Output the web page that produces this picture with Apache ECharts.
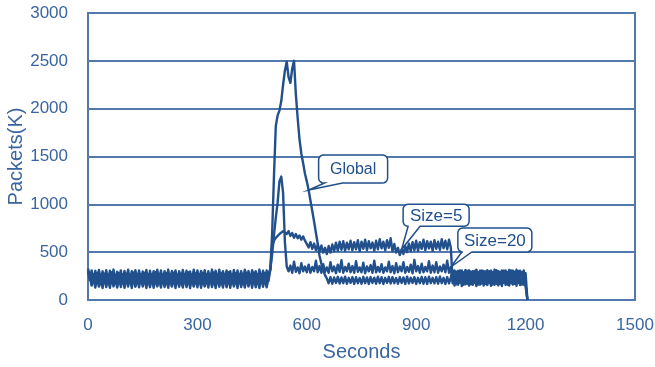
<!DOCTYPE html>
<html>
<head>
<meta charset="utf-8">
<script src="https://cdn.jsdelivr.net/npm/echarts@6/dist/echarts.min.js"></script>
<style>
  html, body { margin: 0; padding: 0; background: #ffffff; }
  #chart { width: 655px; height: 367px; }
</style>
</head>
<body>
<div id="chart"></div>
<script>
// Packet counts (thousands) sampled every STEP seconds, starting at t = 0.
const STEP = 5;

const globalPkts = [
  330,255,150,235,130,245,140,220,125,250,
  135,238,128,246,142,226,130,252,136,240,
  128,232,140,248,126,236,138,224,132,250,
  140,230,126,244,134,254,128,228,142,238,
  130,246,136,222,128,250,140,234,126,242,
  138,228,130,252,134,236,126,246,140,226,
  132,248,128,238,142,230,130,254,136,232,
  126,244,138,226,130,250,134,240,128,236,
  140,230,126,248,136,222,130,246,142,238,
  128,250,134,232,126,244,138,228,132,240,
  320,700,1300,1820,1930,1980,2080,2250,2400,2490,
  2330,2270,2420,2500,2150,1900,1680,1530,1430,1320,
  1240,1150,1040,930,820,700,590,460,380,310,
  260,225,175,240,170,235,178,242,172,236,
  176,244,170,232,178,240,168,238,176,230,
  170,242,176,236,168,240,178,234,170,244,
  176,238,168,232,180,242,172,240,176,230,
  170,240,178,236,168,244,174,234,178,240,
  168,232,176,242,170,238,168,244,176,232,
  174,240,170,246,176,232,168,240,174,236,
  300,150,295,160,310,145,290,165,305,150,
  296,158,304,146,292,162,308,150,298,156,
  302,148,290,160,312,152,294,146,306,158,
  292,150,308,162,296,148,304,156,290,160,
  280,0
];

const size5Pkts = [
  300,210,310,200,305,195,315,215,300,205,
  312,198,306,210,318,200,296,208,310,196,
  304,212,316,202,300,206,312,198,308,210,
  298,200,314,196,306,214,302,204,316,198,
  308,208,300,202,318,196,304,212,310,204,
  302,198,314,210,306,200,298,206,316,196,
  310,212,304,200,312,208,300,198,318,210,
  306,202,316,196,302,214,310,204,300,200,
  314,196,308,212,302,206,316,198,304,208,
  312,202,300,196,318,210,306,200,310,198,
  320,560,620,650,660,690,700,720,700,690,
  720,670,700,650,690,645,675,630,665,620,
  615,550,605,535,590,520,580,505,570,495,
  545,480,565,495,580,510,600,515,610,525,
  615,515,600,530,620,520,605,530,625,510,
  610,535,630,520,615,540,600,515,620,530,
  635,540,610,520,625,545,645,510,585,495,
  545,470,530,480,565,500,590,510,605,520,
  620,515,605,535,630,520,615,540,610,515,
  625,535,610,525,635,540,620,530,630,545,
  200,310,195,305,210,300,198,315,205,308,
  200,302,212,316,196,306,204,300,210,312,
  198,304,208,318,202,300,196,310,206,302,
  212,314,200,306,198,316,204,300,208,310,
  310,0
];

const size20Pkts = [
  280,250,160,270,150,285,145,260,165,275,
  155,268,148,290,158,262,150,282,162,270,
  146,276,160,264,152,288,148,272,156,266,
  162,284,150,270,146,262,158,290,152,274,
  148,266,160,280,154,272,146,286,158,264,
  156,278,148,268,162,290,150,262,146,280,
  160,270,154,284,148,266,158,276,150,288,
  146,262,162,282,152,270,148,290,156,268,
  158,280,146,266,160,274,150,286,154,262,
  150,288,156,270,148,264,162,282,146,276,
  320,480,680,860,1020,1240,1290,1120,600,350,
  300,360,285,400,295,340,280,385,300,350,
  290,370,285,345,300,410,290,355,285,375,
  295,340,285,395,300,350,280,370,295,415,
  285,345,300,380,290,355,285,405,295,340,
  290,390,280,350,300,365,285,410,290,345,
  295,375,285,340,300,400,290,355,280,385,
  290,350,300,395,285,345,295,370,280,420,
  300,355,285,380,290,345,300,405,285,360,
  290,395,285,350,300,370,290,410,285,345,
  175,300,165,290,180,310,160,295,170,305,
  165,292,178,308,160,296,172,300,168,288,
  176,306,162,294,170,302,166,290,180,310,
  160,298,174,304,168,292,178,306,162,296,
  290,0
];

const seriesNames = ['Global', 'Size=5', 'Size=20'];
const seriesValues = [globalPkts, size5Pkts, size20Pkts];

// Callouts: which series/time the pointer touches, and where the box sits relative to it.
const callouts = [
  { series: 0, t: 605, dx: 10, dy: -35, w: 69, h: 28, b1: 6, b2: 24, fontSize: 16 },
  { series: 1, t: 860, dx: 1.5, dy: -45, w: 66, h: 22, b1: 5, b2: 17, fontSize: 17 },
  { series: 2, t: 995, dx: 7, dy: -39, w: 74, h: 24, b1: 4, b2: 14, fontSize: 17 }
];

const INK = '#21508c';
const LABEL = '#3a65a0';
const GRID = '#5279ae';
const FONT = '"Liberation Sans", Arial, Helvetica, sans-serif';

const chart = echarts.init(document.getElementById('chart'), null, { renderer: 'canvas' });

const series = seriesValues.map((vals, k) => ({
  name: seriesNames[k],
  type: 'line',
  data: vals.map((v, i) => [i * STEP, v]),
  showSymbol: false,
  symbol: 'none',
  sampling: null,
  lineStyle: { color: INK, width: 2.4, join: 'round' },
  itemStyle: { color: INK },
  z: 3
}));

chart.setOption({
  animation: false,
  backgroundColor: '#ffffff',
  grid: {
    left: 88, right: 20, top: 13, bottom: 67,
    containLabel: false, outerBoundsMode: 'none',
    show: true, borderColor: GRID, borderWidth: 2, backgroundColor: '#ffffff'
  },
  xAxis: {
    type: 'value', min: 0, max: 1500, interval: 300,
    name: 'Seconds', nameLocation: 'middle', nameGap: 42, nameMoveOverlap: false,
    nameTextStyle: { color: LABEL, fontSize: 20, fontFamily: FONT },
    axisLine: { show: true, lineStyle: { color: GRID, width: 2 } },
    axisTick: { show: false },
    splitLine: { show: false },
    axisLabel: { color: LABEL, fontSize: 17, fontFamily: FONT, margin: 17,
                 formatter: (v) => String(v) }
  },
  yAxis: {
    type: 'value', min: 0, max: 3000, interval: 500,
    name: 'Packets(K)', nameLocation: 'middle', nameGap: 62, nameMoveOverlap: false,
    nameTextStyle: { color: LABEL, fontSize: 20, fontFamily: FONT },
    axisLine: { show: true, lineStyle: { color: GRID, width: 2 } },
    axisTick: { show: false },
    splitLine: { show: true, lineStyle: { color: GRID, width: 2 } },
    axisLabel: { color: LABEL, fontSize: 17, fontFamily: FONT, margin: 20,
                 formatter: (v) => String(v) }
  },
  series: series
});

// Rounded speech-bubble outline with a tail ending at (tx, ty).
function bubblePoints(x0, y0, w, h, r, b1, b2, tx, ty) {
  const x1 = x0 + w, y1 = y0 + h;
  const pts = [];
  const arc = (cx, cy, a0, a1) => {
    const n = 5;
    for (let i = 0; i <= n; i++) {
      const a = (a0 + (a1 - a0) * i / n) * Math.PI / 180;
      pts.push([cx + r * Math.cos(a), cy + r * Math.sin(a)]);
    }
  };
  arc(x1 - r, y0 + r, -90, 0);
  arc(x1 - r, y1 - r, 0, 90);
  pts.push([x0 + b2, y1], [tx, ty], [x0 + b1, y1]);
  arc(x0 + r, y1 - r, 90, 180);
  arc(x0 + r, y0 + r, 180, 270);
  return pts;
}

const graphics = [];
callouts.forEach((c) => {
  const vals = seriesValues[c.series];
  const tip = chart.convertToPixel({ seriesIndex: c.series }, [c.t, vals[c.t / STEP]]);
  const x0 = tip[0] + c.dx, y0 = tip[1] + c.dy;
  graphics.push({
    type: 'polygon', z: 100,
    shape: { points: bubblePoints(x0, y0, c.w, c.h, 5, c.b1, c.b2, tip[0], tip[1]) },
    style: { fill: '#ffffff', stroke: INK, lineWidth: 1.5 }
  });
  graphics.push({
    type: 'text', z: 101,
    x: x0 + c.w / 2, y: y0 + c.h / 2 + 1,
    style: {
      text: seriesNames[c.series], fill: INK,
      font: c.fontSize + 'px ' + FONT,
      align: 'center', verticalAlign: 'middle',
      textAlign: 'center', textVerticalAlign: 'middle'
    }
  });
});
chart.setOption({ graphic: graphics });
</script>
</body>
</html>
